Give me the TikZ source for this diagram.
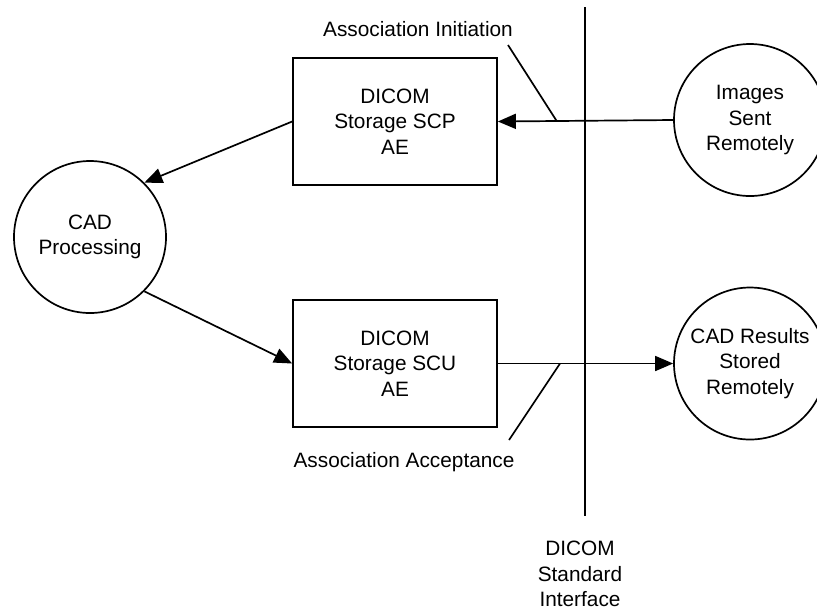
\documentclass[tikz,border=0pt]{standalone}
\usepackage{fontspec}
\setmainfont{Liberation Sans}
\usetikzlibrary{arrows.meta}
\begin{document}
\begin{tikzpicture}[x=0.5pt,y=-0.5pt,
  txt/.style={font=\fontsize{10.4}{12.7}\selectfont, align=center},
  aebox/.style={txt, draw, line width=0.85pt, minimum width=102pt, minimum height=63.5pt, inner sep=0pt},
  proc/.style={txt, draw, circle, line width=0.85pt, minimum size=76pt, inner sep=0pt},
  conn/.style={line width=0.85pt, -{Triangle[length=9pt,width=7.5pt]}},
  plain/.style={line width=0.85pt}]
\useasboundingbox (0,0) rectangle (817,612);
\node[aebox] (scp) at (395,121.5) {DICOM\\Storage SCP\\AE};
\node[aebox] (scu) at (395,363.5) {DICOM\\Storage SCU\\AE};
\node[proc] (cad) at (90,237) {CAD\\Processing};
\node[proc] (img) at (750,120) {Images\\Sent\\Remotely};
\node[proc] (res) at (750,363.5) {CAD Results\\Stored\\Remotely};
\node[txt] (ini) at (418,29) {Association Initiation};
\node[txt] (acc) at (404,462) {Association Acceptance};
\node[txt] (dsi) at (580,574) {DICOM\\Standard\\Interface};
\coordinate (vtop) at (585,7);
\coordinate (vbot) at (585,516);
\draw[plain] (vtop) -- (vbot);
\draw[conn] (img.west) -- (scp.east);
\draw[conn] (scp.west) -- (cad.45);
\draw[conn] (cad.-45) -- (scu.west);
\draw[conn] (scu.east) -- (res.west);
\coordinate (i1) at (508,45);
\coordinate (i2) at (557,121.5);
\draw[plain] (i1) -- (i2);
\coordinate (a1) at (560,363.5);
\coordinate (a2) at (509,440);
\draw[plain] (a1) -- (a2);
\end{tikzpicture}
\end{document}
